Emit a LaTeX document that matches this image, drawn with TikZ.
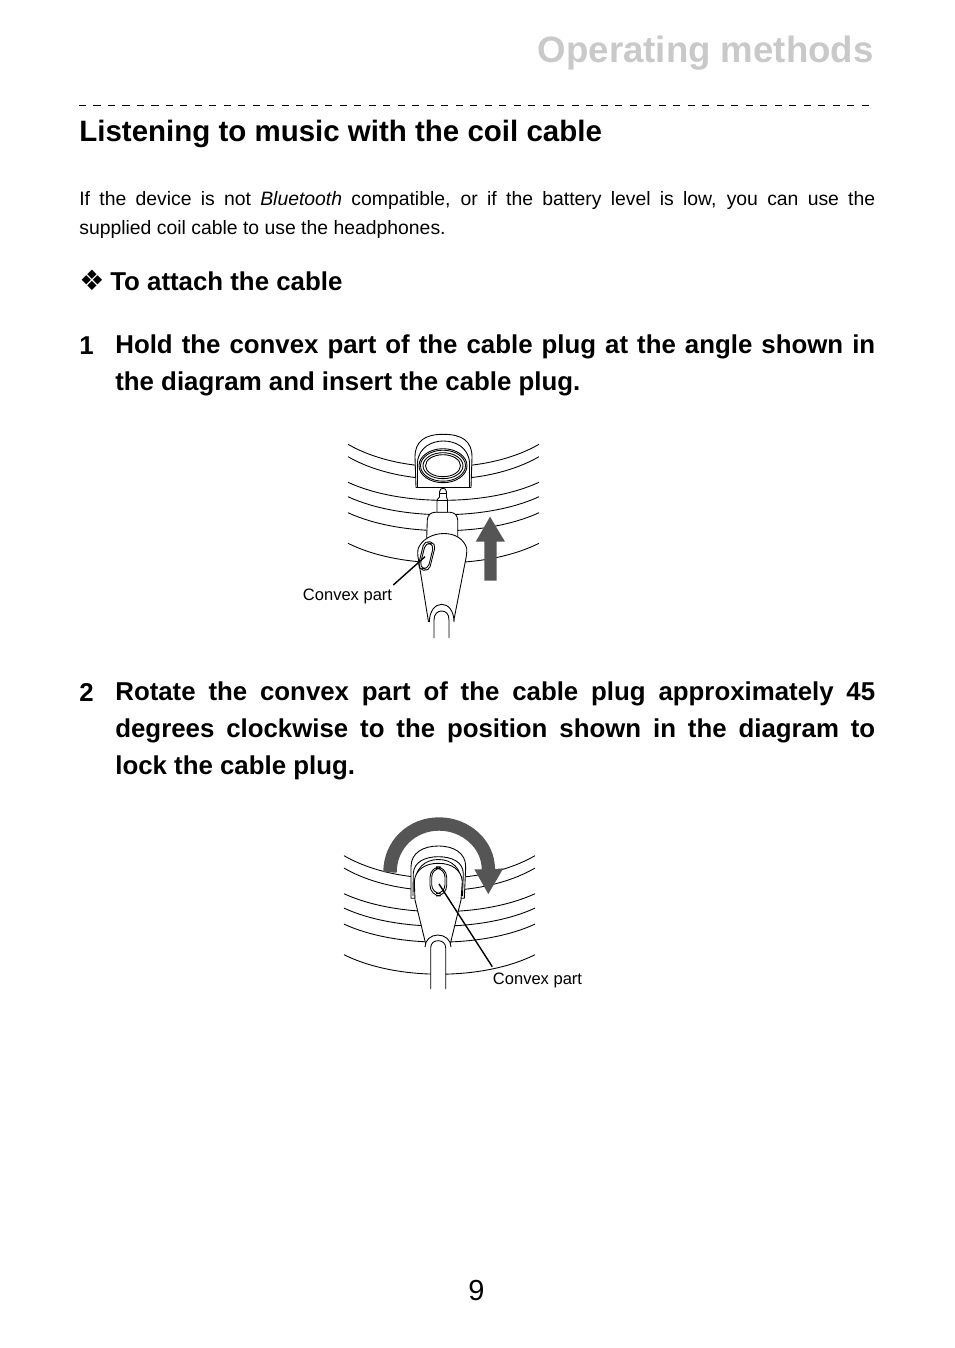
\documentclass[tikz,border=0pt]{standalone}
\usepackage{fontspec}
\setmainfont{Liberation Sans}
\newfontfamily\symfont{DejaVu Sans}
\definecolor{titlegrey}{HTML}{C9C9C9}
\definecolor{arrowgrey}{HTML}{555555}
\tikzset{
	txt/.style = {inner sep=0, anchor=base west},
	pagetitle/.style = {inner sep=0, anchor=base east, font=\fontsize{20.85}{24}\selectfont\bfseries, text=titlegrey},
	sechead/.style = {txt, font=\fontsize{16.78}{18}\selectfont\bfseries},
	bodytext/.style = {inner sep=0, anchor=north west, text width=453pt, align=justify, font=\fontsize{11.03}{16.7}\selectfont},
	stephead/.style = {txt, font=\fontsize{14.7}{15}\selectfont\bfseries},
	steptext/.style = {inner sep=0, anchor=north west, text width=432.5pt, align=justify, font=\fontsize{14.7}{21}\selectfont\bfseries},
	callout/.style = {inner sep=0, font=\fontsize{9.41}{11}\selectfont},
	part/.style = {draw, fill=white, line width=0.5pt},
	lead/.style = {draw, line width=0.8pt},
	bigarrow/.style = {fill=arrowgrey, draw=none}
}
% one coil turn: start height, sag
\newcommand{\coilturn}[2]{\draw[line width=0.5pt] (348,#1) .. controls (400,#1+#2) and (487,#1+#2) .. (539,#1);}
\newcommand{\coils}{
	\coilturn{444.3}{30}
	\coilturn{456.7}{30}
	\coilturn{482.3}{24}
	\coilturn{496.7}{24}
	\coilturn{512.7}{24}
	\coilturn{543.3}{26}
}
\begin{document}
\begin{tikzpicture}[x=0.02cm,y=-0.02cm]
	\useasboundingbox (0,0) rectangle (954,1348);

	% page text
	\node [pagetitle] (title) at (874,63) {Operating methods};
	\coordinate (ruleL) at (79,105.5);
	\coordinate (ruleR) at (875,105.5);
	\draw [line width=0.7pt, dash pattern=on 4pt off 4.25pt] (ruleL) -- (ruleR);
	\node [sechead] (head) at (79,142) {Listening to music with the coil cable};
	\node [bodytext] (intro) at (79,191) {If the device is not \textit{Bluetooth} compatible, or if the battery level is low, you can use the\linebreak supplied coil cable to use the headphones.};
	\node [stephead] (attach) at (79,290) {{\symfont\fontsize{16}{15}\selectfont ❖}};
	\node [stephead] (attachtxt) at (110,290) {To attach the cable};
	\node [stephead] (numA) at (79,354) {1};
	\node [steptext] (stepA) at (115,334.5) {Hold the convex part of the cable plug at the angle shown in\linebreak the diagram and insert the cable plug.};
	\node [stephead] (numB) at (79,701) {2};
	\node [steptext] (stepB) at (115,681.5) {Rotate the convex part of the cable plug approximately 45\linebreak degrees clockwise to the position shown in the diagram to\linebreak lock the cable plug.};
	\node [inner sep=0, anchor=base, font=\fontsize{16.5}{18}\selectfont] (pagenum) at (476.5,1300) {9};

	% first diagram
	\coils
	\fill [bigarrow] (490,516.7) -- (505,541.7) -- (496.7,541.7) -- (496.7,580.7) -- (484.3,580.7) -- (484.3,541.7) -- (475.7,541.7) -- cycle;
	\draw [part] (416,487.5) -- (415,457) .. controls (415,441) and (425,434.3) .. (443.3,434.3) .. controls (462,434.3) and (472,441) .. (472,457) -- (471,487.5) -- cycle;
	\draw [line width=0.5pt] (417.5,487) -- (417.5,462) .. controls (419,447) and (432,441) .. (443.3,441) .. controls (455,441) and (468,447) .. (469.5,462) -- (469.5,487);
	\draw [line width=0.9pt] (416,487.5) -- (471,487.5);
	\draw [part] (443,465.7) ellipse [x radius=24, y radius=17];
	\draw [part] (443,465.7) ellipse [x radius=22.5, y radius=15.5];
	\draw [part] (443,465.7) ellipse [x radius=20, y radius=13];
	\draw [part] (443,465.7) ellipse [x radius=17.5, y radius=11];
	\draw [part] (437,512.5) -- (437,500) -- (439.5,497) -- (439.5,492) .. controls (439.5,487) and (446.5,487) .. (446.5,492) -- (446.5,497) -- (447.5,500) -- (447.5,512.5) -- cycle;
	\draw [line width=0.5pt] (439.5,493) -- (446.5,493);
	\draw [line width=0.5pt] (437,500) -- (447.5,500);
	\draw [part] (426.7,538) -- (427.3,520) .. controls (427.5,515) and (431,512.3) .. (435,512.3) -- (450,512.3) .. controls (454,512.3) and (457.5,515) .. (457.7,520) -- (457.7,538) -- cycle;
	\draw [part] (428.5,622) -- (418.5,560) .. controls (417.5,555) and (417.5,551) .. (418.3,548.3) .. controls (422,539) and (433,533.5) .. (444,533.5) .. controls (455,533.5) and (464,539) .. (466.7,548.3) .. controls (467,554) and (466,558) .. (465,563) -- (453.5,622);
	\draw [line width=0.5pt, rotate around={-14:(426.7,556)}, rounded corners=3pt] (420.8,541.5) rectangle (432.6,570.5);
	\draw [line width=0.5pt, rotate around={-14:(426.7,556)}, rounded corners=3pt] (422.5,543) rectangle (431,569);
	\draw [part] (429.3,622) .. controls (429.5,611) and (435,604.3) .. (441.7,604.3) .. controls (448.5,604.3) and (454,611) .. (454,622);
	\draw [part] (434,638) -- (434,620) .. controls (434,614) and (437.5,611) .. (441.7,611) .. controls (446,611) and (449,614) .. (449,620) -- (449,638);
	\coordinate (slotA) at (425,556.7);
	\node [callout] (labelA) at (347.5,596) {Convex part};
	\coordinate (leadA) at (393.3,585);
	\draw [lead] (slotA) -- (leadA);

	% second diagram
	\begin{scope}[shift={(-4,411.4)}]
		\coils
	\end{scope}
	\fill [bigarrow] (383.3,872) .. controls (383.3,841) and (408,817.3) .. (439,817.3) .. controls (470,817.3) and (495,841) .. (495,869) -- (503.3,868.3) -- (488.3,894) -- (474.3,869.3) -- (481.7,869.3) .. controls (481.7,848) and (462,830.7) .. (439,830.7) .. controls (416,830.7) and (396.7,848) .. (396.7,872.7) -- cycle;
	\draw [part] (411,898.3) -- (411,866.7) .. controls (411,853) and (423,846) .. (438.3,846) .. controls (454,846) and (465.7,853) .. (465.7,866.7) -- (464.3,898.3) -- cycle;
	\draw [part] (413,896) -- (413.3,873.3) .. controls (414,862) and (425,856.7) .. (438.3,856.7) .. controls (452,856.7) and (463,862) .. (463.3,873.3) -- (462.5,896);
	\draw [line width=0.5pt] (414.5,885) .. controls (415,868) and (425,859.5) .. (438.3,859.5) .. controls (452,859.5) and (461.5,868) .. (462,885);
	\draw [part] (426,945) -- (415,900) -- (414.3,881.7) .. controls (415,870) and (425,863.3) .. (438.3,863.3) .. controls (452,863.3) and (461.5,870) .. (462.3,881.7) -- (461,900) -- (450,945);
	\draw [line width=0.5pt, rounded corners=6pt] (430,866.7) rectangle (446.7,896);
	\draw [line width=0.5pt, rounded corners=5pt] (431.7,868.3) rectangle (445,893.5);
	\draw [part] (425,947) .. controls (425,940) and (431,935) .. (437.7,935) .. controls (445,935) and (451,940) .. (451,947);
	\draw [part] (430.7,989) -- (430.7,948) .. controls (430.7,943) and (434,940.7) .. (438,940.7) .. controls (442,940.7) and (445.7,943) .. (445.7,948) -- (445.7,989);
	\coordinate (slotB) at (439,884);
	\node [callout] (labelB) at (537.5,980) {Convex part};
	\coordinate (leadB) at (492.3,966.7);
	\draw [lead] (slotB) -- (leadB);
\end{tikzpicture}
\end{document}
